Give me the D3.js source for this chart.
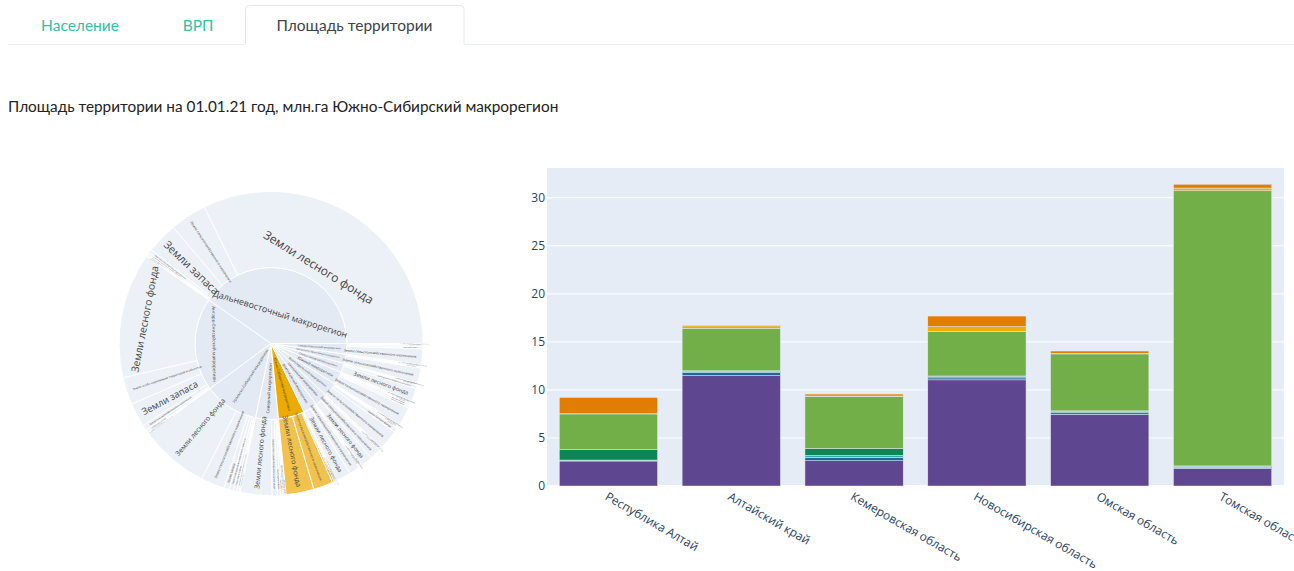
<!DOCTYPE html>
<html><head><meta charset="utf-8">
<script src="https://cdn.jsdelivr.net/npm/d3@7"></script>
<style>
html,body{margin:0;padding:0;background:#fff;}
svg{display:block;}
</style></head>
<body>
<svg id="chart" width="1294" height="571"></svg>
<script>
// ---------------- data ----------------
const tabLabels = ["Население", "ВРП", "Площадь территории"];
const activeTab = 2;
const chartTitle = "Площадь территории на 01.01.21 год, млн.га Южно-Сибирский макрорегион";

const regions = ["Республика Алтай", "Алтайский край", "Кемеровская область",
                 "Новосибирская область", "Омская область", "Томская область"];
const landCategories = [
  "Земли сельскохозяйственного назначения",
  "Земли населенных пунктов",
  "Земли промышленности и иного специального назначения",
  "Земли особо охраняемых территорий и объектов",
  "Земли лесного фонда",
  "Земли водного фонда",
  "Земли запаса"
];
// million ha, per region (same order as regions)
const agricultural   = [2.60, 11.49, 2.63, 11.05, 7.47, 1.84];
const settlements    = [0.05, 0.30, 0.35, 0.20, 0.15, 0.10];
const industry       = [0.05, 0.15, 0.20, 0.15, 0.15, 0.10];
const protectedAreas = [1.10, 0.05, 0.73, 0.05, 0.05, 0.05];
const forestFund     = [3.70, 4.43, 5.43, 4.62, 5.93, 28.64];
const waterFund      = [0.02, 0.25, 0.03, 0.52, 0.05, 0.28];
const reserveLand    = [1.70, 0.08, 0.20, 1.10, 0.25, 0.40];
const barSeries = [agricultural, settlements, industry, protectedAreas, forestFund, waterFund, reserveLand];
const seriesColors = ["rgb(95,70,144)", "rgb(29,105,150)", "rgb(56,166,165)", "rgb(15,133,84)",
                      "rgb(115,175,72)", "rgb(237,173,8)", "rgb(225,124,5)"];
const yTickValues = [0, 5, 10, 15, 20, 25, 30];
const yMax = 33.1;

// sunburst: macroregions (drawing order) and their land by category (landCategories order)
const highlightMacro = "Южно-Сибирский макрорегион";
const macroregions = [
  "Дальневосточный макрорегион", "Ангаро-Енисейский макрорегион", "Уральско-Сибирский макрорегион",
  "Северный макрорегион", "Южно-Сибирский макрорегион", "Волго-Камский макрорегион",
  "Центральный макрорегион", "Волго-Уральский макрорегион", "Южный макрорегион",
  "Северо-Западный макрорегион", "Центрально-Черноземный макрорегион", "Северо-Кавказский макрорегион"
];
const macroLand = [
  [69, 3, 4, 6, 573, 2, 59],
  [10, 2, 2, 52, 237, 5, 45],
  [45, 3, 4, 8, 130, 6, 10],
  [10, 1, 2, 3, 60, 6, 4],
  null, // Южно-Сибирский: summed from the regional bar data
  [20, 1.5, 1, 1, 28, 2, 0.5],
  [20.5, 2.5, 1, 0.8, 23, 1, 0.7],
  [38, 1.5, 1, 0.5, 9, 1.5, 2.5],
  [36, 1.5, 1, 0.7, 4, 4, 2.8],
  [6, 0.8, 0.5, 0.5, 25, 2, 0.2],
  [29, 1.2, 0.6, 0.2, 2, 0.5, 1.5],
  [30, 1, 0.5, 0.5, 4, 1, 3]
];

// ---------------- drawing ----------------
const svg = d3.select("#chart");

// tabs
const tabCenters = [80, 198, 354.5];
svg.append("line").attr("x1", 8).attr("x2", 245).attr("y1", 44.5).attr("y2", 44.5)
  .attr("stroke", "#eceff1").attr("stroke-width", 1);
svg.append("line").attr("x1", 464).attr("x2", 1294).attr("y1", 44.5).attr("y2", 44.5)
  .attr("stroke", "#eceff1").attr("stroke-width", 1);
svg.append("path")
  .attr("d", "M245.5,44.5 V9 Q245.5,5.5 249.5,5.5 H460 Q464,5.5 464,9 V44.5")
  .attr("fill", "#fff").attr("stroke", "#e3e6e8").attr("stroke-width", 1);
svg.selectAll("text.tab").data(tabLabels).enter().append("text")
  .attr("class", "tab")
  .attr("x", (d, i) => tabCenters[i]).attr("y", 25)
  .attr("text-anchor", "middle").attr("dominant-baseline", "central")
  .style("font-family", "Lato, 'Open Sans', sans-serif").style("font-size", "15.5px")
  .attr("fill", (d, i) => i === activeTab ? "#3d4348" : "#33bf9f")
  .text(d => d);

// title
svg.append("text").attr("x", 8).attr("y", 106)
  .attr("dominant-baseline", "central")
  .style("font-family", "Lato, 'Open Sans', sans-serif").style("font-size", "15.35px")
  .attr("fill", "#222").text(chartTitle);

// ---------------- bar chart ----------------
const plot = {left: 547, right: 1284, top: 168, bottom: 486};
const x = d3.scaleBand().domain(regions).range([plot.left, plot.right]).paddingInner(0.2).paddingOuter(0.1);
const y = d3.scaleLinear().domain([0, yMax]).range([plot.bottom, plot.top]);

svg.append("rect").attr("x", plot.left).attr("y", plot.top)
  .attr("width", plot.right - plot.left).attr("height", plot.bottom - plot.top).attr("fill", "#E5ECF6");

svg.append("g").selectAll("line").data(yTickValues).enter().append("line")
  .attr("x1", plot.left).attr("x2", plot.right)
  .attr("y1", d => y(d)).attr("y2", d => y(d))
  .attr("stroke", "#fff").attr("stroke-width", (d) => d === 0 ? 2 : 1);

const rows = regions.map((r, i) => {
  const o = {region: r};
  landCategories.forEach((c, k) => { o[c] = barSeries[k][i]; });
  return o;
});
const stacked = d3.stack().keys(landCategories)(rows);
svg.append("g").selectAll("g").data(stacked).enter().append("g")
  .attr("fill", (d, k) => seriesColors[k])
  .selectAll("rect").data(d => d).enter().append("rect")
  .attr("x", d => x(d.data.region))
  .attr("width", x.bandwidth())
  .attr("y", d => y(d[1]))
  .attr("height", d => Math.max(0, y(d[0]) - y(d[1])))
  .attr("stroke", "#E5ECF6").attr("stroke-width", 0.5);

const yAxis = svg.append("g").attr("transform", `translate(${plot.left},0)`)
  .call(d3.axisLeft(y).tickValues(yTickValues).tickSize(0).tickPadding(2).tickFormat(d3.format("d")));
yAxis.select(".domain").remove();
yAxis.selectAll("text").style("font-family", "'Open Sans', sans-serif").style("font-size", "12px").attr("fill", "#2a3f5f");

const xAxis = svg.append("g").attr("transform", `translate(0,${plot.bottom})`)
  .call(d3.axisBottom(x).tickSize(0).tickPadding(0));
xAxis.select(".domain").remove();
xAxis.selectAll("text")
  .style("font-family", "'Open Sans', sans-serif").style("font-size", "12px").attr("fill", "#2a3f5f")
  .attr("text-anchor", "start").attr("y", 0).attr("dy", 0)
  .attr("dominant-baseline", "central")
  .attr("transform", "translate(-2,9) rotate(30)");

// ---------------- sunburst ----------------
const cx = 271, cy = 343.5, R = 152;
const ysMacro = landCategories.map((c, k) => d3.sum(barSeries[k]));
const treeData = {
  name: "root",
  children: macroregions.map((m, i) => ({
    name: m,
    children: landCategories.map((c, k) => ({name: c, value: (macroLand[i] || ysMacro)[k]}))
  }))
};
const root = d3.hierarchy(treeData).sum(d => d.value || 0)
  .sort((a, b) => a.depth === 2 ? b.value - a.value : 0);
d3.partition().size([2 * Math.PI, 3])(root);
const ringW = R / 2;
const rad = yv => (yv - 1) * ringW;
const nodes = root.descendants().filter(d => d.depth > 0);

function colorOf(d) {
  const macro = d.depth === 1 ? d.data.name : d.parent.data.name;
  const hl = macro === highlightMacro;
  if (d.depth === 1) return hl ? "#EDAB02" : "#E4EAF4";
  return hl ? "#F2C24E" : "#ECF0F7";
}
const arc = d3.arc()
  .startAngle(d => Math.PI / 2 - d.x1)
  .endAngle(d => Math.PI / 2 - d.x0)
  .innerRadius(d => rad(d.y0))
  .outerRadius(d => rad(d.y1));

const sb = svg.append("g").attr("transform", `translate(${cx},${cy})`);
sb.selectAll("path").data(nodes).enter().append("path")
  .attr("d", arc).attr("fill", colorOf).attr("stroke", "#fff").attr("stroke-width", 1);

// text fitting (plotly-like auto orientation)
const meas = svg.append("text").style("font-family", "'Open Sans', sans-serif").style("font-size", "12px");
function bb(t) { meas.text(t); const b = meas.node().getBBox(); return {w: b.width, h: b.height}; }
function maxHalf(a, half, r, ring) {
  const q = a + 1 / (2 * Math.tan(half));
  return r * Math.min(1 / (Math.sqrt(q * q + 0.5) + q), ring / (Math.sqrt(a * a + ring / 2) + a));
}
const norm = deg => ((((deg + 90) % 180) + 180) % 180) - 90;
const labels = [];
nodes.forEach(d => {
  const r1 = rad(d.y1), r0 = rad(d.y0);
  const r = Math.max(0, r1 - 6);
  const ring = 1 - r0 / r1;
  const span = d.x1 - d.x0;
  const half = 0.5 * Math.min(span, Math.PI);
  const mid = Math.PI / 2 - (d.x0 + d.x1) / 2; // clock angle (rad)
  const t = bb(d.data.name);
  const aR = t.w / t.h, sR = maxHalf(aR, half, r, ring);
  const radial = {scale: sR * 2 / t.h, rc: Math.cos(sR / r) - aR * (sR / r), rot: norm(mid * 180 / Math.PI - 90)};
  const aT = t.h / t.w, sT = maxHalf(aT, half, r, ring);
  const tang = {scale: sT * 2 / t.w, rc: Math.cos(sT / r) - aT * (sT / r), rot: norm(mid * 180 / Math.PI)};
  const best = radial.scale > tang.scale ? radial : tang;
  const sc = Math.min(1, best.scale);
  const rr = best.rc * r;
  labels.push({name: d.data.name, x: rr * Math.sin(mid), y: -rr * Math.cos(mid), rot: best.rot,
               size: Math.max(1, 12 * sc)});
});
meas.remove();
sb.selectAll("text").data(labels).enter().append("text")
  .attr("transform", d => `translate(${d.x},${d.y}) rotate(${d.rot})`)
  .attr("text-anchor", "middle").attr("dominant-baseline", "central")
  .style("font-family", "'Open Sans', sans-serif").style("font-size", d => d.size + "px")
  .attr("fill", "#444").text(d => d.name);
</script>
</body></html>
